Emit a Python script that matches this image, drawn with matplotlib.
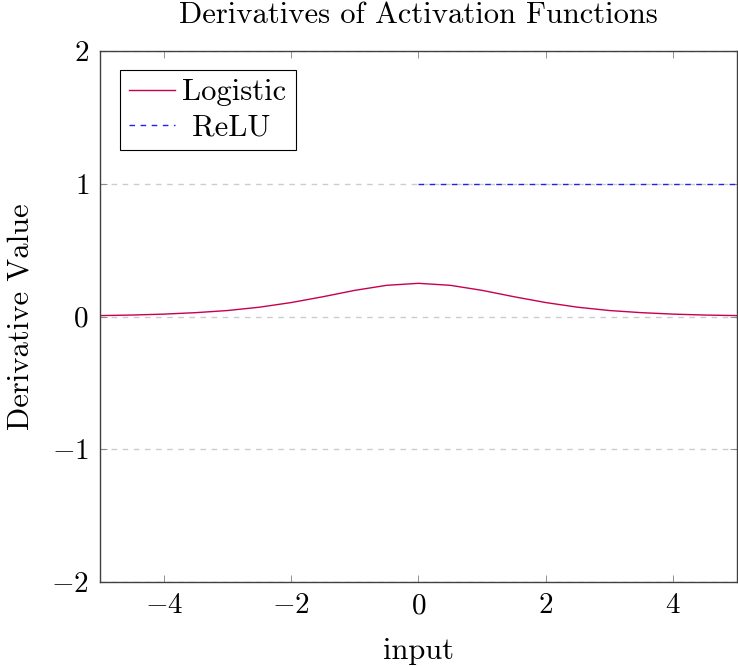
import numpy as np
import matplotlib
matplotlib.use('Agg')
import matplotlib.pyplot as plt

# Шрифт в стиле LaTeX
plt.rcParams['font.family'] = 'serif'
plt.rcParams['font.serif'] = ['cmr10']
plt.rcParams['mathtext.fontset'] = 'cm'
plt.rcParams['axes.formatter.use_mathtext'] = True

# Производная логистической функции (значения по точкам)
x_log = [-5.0, -4.5, -4.0, -3.5, -3.0, -2.5, -2.0, -1.5, -1.0, -0.5, 0.0,
         0.5, 1.0, 1.5, 2.0, 2.5, 3.0, 3.5, 4.0, 4.5, 5.0]
y_log = [0.007, 0.011, 0.018, 0.029, 0.045, 0.070, 0.105, 0.149, 0.197, 0.235, 0.250,
         0.235, 0.197, 0.149, 0.105, 0.070, 0.045, 0.029, 0.018, 0.011, 0.007]

# Производная ReLU при x >= 0
x_relu = [0.0, 5.0]
y_relu = [1.0, 1.0]

x_ticks = [-4, -2, 0, 2, 4]
y_ticks = [-2, -1, 0, 1, 2]

fig = plt.figure(figsize=(7.38, 6.66), dpi=100)
ax = fig.add_axes([0.1355, 0.1261, 0.8631, 0.7973])

ax.plot(x_log, y_log, color='#c8004e', linewidth=1.0, label='Logistic')
ax.plot(x_relu, y_relu, color='#2020f0', linewidth=1.0, linestyle=(0, (4, 4)), label=' ReLU')

ax.set_xlim(-5, 5)
ax.set_ylim(-2, 2)
ax.set_xticks(x_ticks)
ax.set_yticks(y_ticks)

# Горизонтальная сетка пунктиром
ax.yaxis.grid(True, color='#cccccc', linestyle=(0, (4, 4)), linewidth=1.0)
ax.set_axisbelow(True)

ax.tick_params(direction='in', top=True, right=True, length=5, width=0.6,
               color='#808080', labelsize=21, pad=8)
for s in ax.spines.values():
    s.set_color('#404040')
    s.set_linewidth(1.0)

ax.set_xlabel('input', fontsize=22, labelpad=13)
ax.set_ylabel('Derivative Value', fontsize=22, labelpad=12)
ax.set_title('Derivatives of Activation Functions', fontsize=22, pad=20)

leg = ax.legend(loc='upper left', fontsize=22, fancybox=False, edgecolor='black',
                framealpha=1, borderpad=0.3, handlelength=1.5, handletextpad=0.25,
                labelspacing=0.25, bbox_to_anchor=(0.031, 0.965), borderaxespad=0)
leg.get_frame().set_linewidth(0.8)

plt.savefig('out.png', dpi=100)
